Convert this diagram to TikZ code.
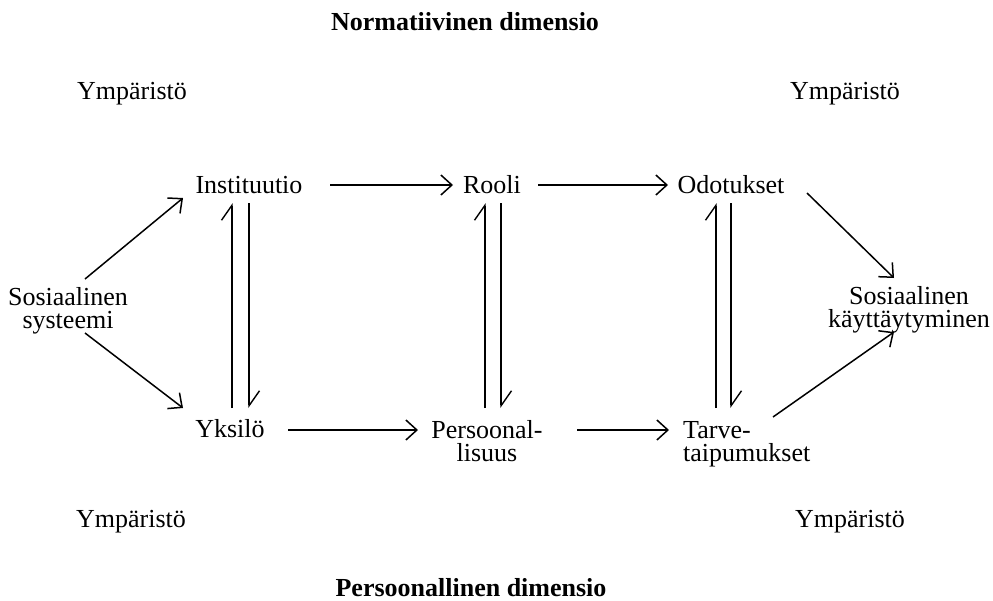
\documentclass[tikz,border=0pt]{standalone}
\usepackage{fontspec}
\setmainfont{Liberation Serif}
\usetikzlibrary{arrows.meta}
\begin{document}
\begin{tikzpicture}[x=1pt,y=-1pt,
  txt/.style={inner sep=0pt,font=\fontsize{26}{23}\selectfont,anchor=base},
  ttl/.style={txt,font=\fontsize{26}{23}\selectfont\bfseries},
  arr/.style={line width=1.5pt,-{Straight Barb[length=11pt,width=20pt,line width=1.5pt]}},
  harp/.style={line width=1.4pt,-{Straight Barb[harpoon,length=15pt,width=21pt,line width=1.4pt]}}]
\useasboundingbox (0,0) rectangle (993,600);
\fill[white] (0,0) rectangle (993,600);
% texts
\node[ttl] (t1) at (465,30) {Normatiivinen dimensio};
\node[ttl] (t2) at (471,596) {Persoonallinen dimensio};
\node[txt] (e1) at (132,99) {Ympäristö};
\node[txt] (e2) at (845,99) {Ympäristö};
\node[txt] (e3) at (131,527) {Ympäristö};
\node[txt] (e4) at (850,527) {Ympäristö};
\node[txt,align=center] (ss) at (68,328) {Sosiaalinen\\systeemi};
\node[txt] (inst) at (249,193) {Instituutio};
\node[txt] (rooli) at (492,193) {Rooli};
\node[txt] (odot) at (731,193) {Odotukset};
\node[txt] (yks) at (230,437) {Yksilö};
\node[txt,align=center] (pers) at (487,461) {Persoonal-\\lisuus};
\node[txt,align=left,anchor=base west] (tarve) at (683,461) {Tarve-\\taipumukset};
\node[txt,align=center] (sk) at (909,327) {Sosiaalinen\\käyttäytyminen};
% arrows
\draw[arr] ([shift={(17,-49)}]ss.base) -- ([shift={(-66,5)}]inst.base);
\draw[arr] ([shift={(17,5)}]ss.base) -- ([shift={(-47,-29)}]yks.base);
\draw[arr] ([shift={(81,-8)}]inst.base) -- ([shift={(-39,-8)}]rooli.base);
\draw[arr] ([shift={(46,-8)}]rooli.base) -- ([shift={(-63,-8)}]odot.base);
\draw[arr] ([shift={(58,-7)}]yks.base) -- ([shift={(-69,-31)}]pers.base);
\draw[arr] ([shift={(90,-31)}]pers.base) -- ([shift={(-14,-31)}]tarve.base west);
\draw[arr] ([shift={(76,0)}]odot.base) -- ([shift={(-15,-49)}]sk.base);
\draw[arr] ([shift={(90,-44)}]tarve.base west) -- ([shift={(-15,5)}]sk.base);
% harpoons
\draw[harp] ([shift={(2,-29)}]yks.base) -- ([shift={(-17,10)}]inst.base);
\draw[harp] ([shift={(0,10)}]inst.base) -- ([shift={(19,-29)}]yks.base);
\draw[harp] ([shift={(-2,-53)}]pers.base) -- ([shift={(-7,10)}]rooli.base);
\draw[harp] ([shift={(9,10)}]rooli.base) -- ([shift={(14,-53)}]pers.base);
\draw[harp] ([shift={(33,-53)}]tarve.base west) -- ([shift={(-15,10)}]odot.base);
\draw[harp] ([shift={(0,10)}]odot.base) -- ([shift={(48,-53)}]tarve.base west);
\end{tikzpicture}
\end{document}
